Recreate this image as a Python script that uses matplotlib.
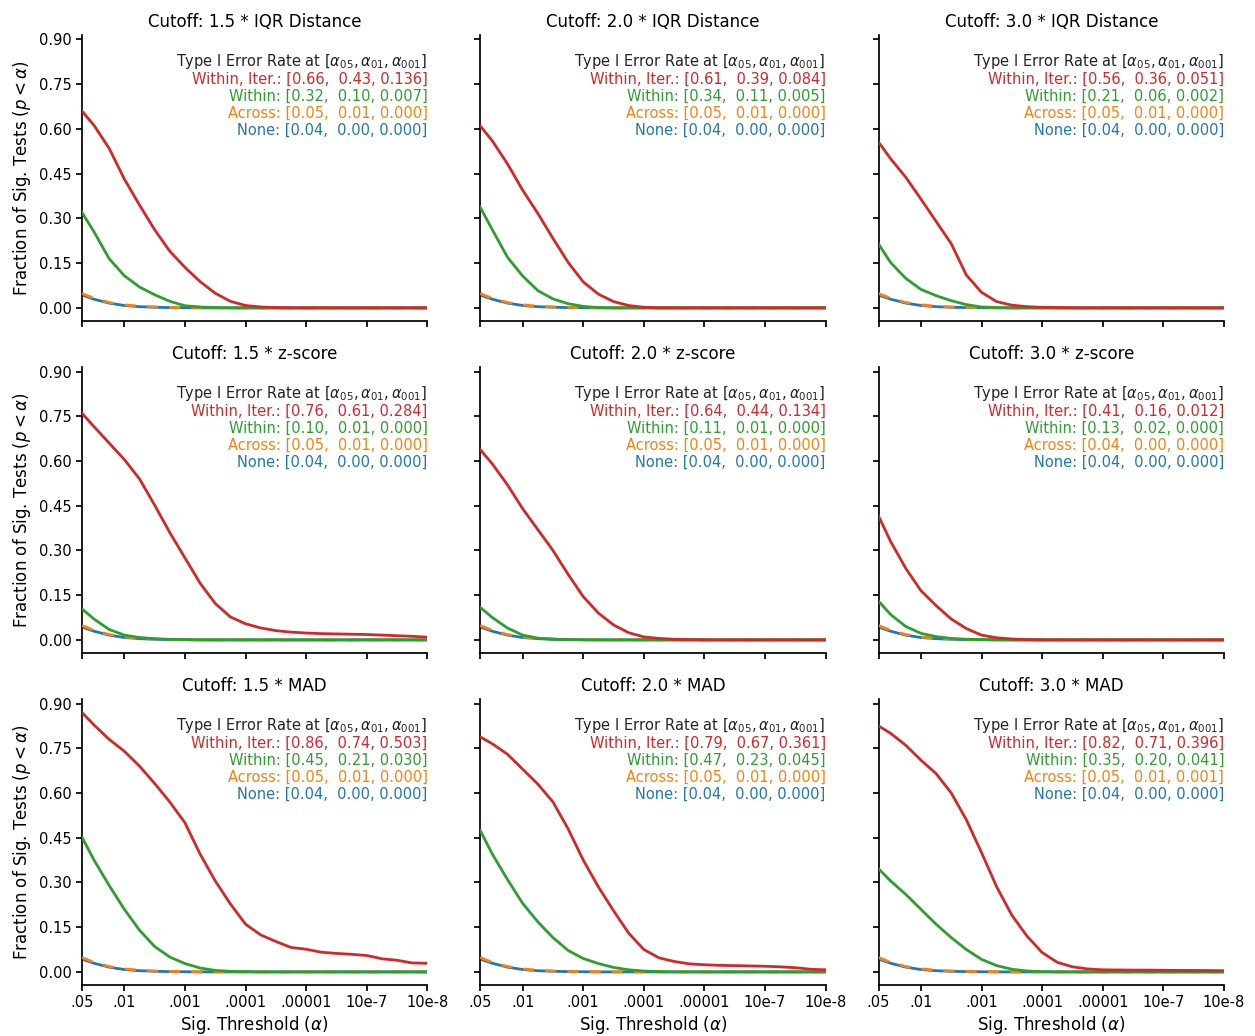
import matplotlib
matplotlib.use("Agg")
import matplotlib.pyplot as plt
from matplotlib.ticker import NullLocator

# ---------------- data ----------------
ALPHA = [0.05, 0.0316, 0.0178, 0.01, 0.00562, 0.00316, 0.00178, 0.001,
         5.62e-4, 3.16e-4, 1.78e-4, 1e-4, 5.62e-5, 3.16e-5, 1.78e-5, 1e-5,
         5.62e-6, 3.16e-6, 1.78e-6, 1e-6, 5.62e-7, 3.16e-7, 1.78e-7, 1e-7]

XTICKS = [0.05, 0.01, 0.001, 1e-4, 1e-5, 1e-6, 1e-7]
XTICKLABELS = [".05", ".01", ".001", ".0001", ".00001", "10e-7", "10e-8"]
YTICKS = [0.0, 0.15, 0.30, 0.45, 0.60, 0.75, 0.90]

TITLES = ["Cutoff: 1.5 * IQR Distance", "Cutoff: 2.0 * IQR Distance", "Cutoff: 3.0 * IQR Distance",
          "Cutoff: 1.5 * z-score", "Cutoff: 2.0 * z-score", "Cutoff: 3.0 * z-score",
          "Cutoff: 1.5 * MAD", "Cutoff: 2.0 * MAD", "Cutoff: 3.0 * MAD"]

SERIES_NAMES = ["Within, Iter.", "Within", "Across", "None"]

# shared null-like curves
NONE_Y = [0.043, 0.029, 0.016, 0.008, 0.004, 0.002, 0.001, 0.0005, 0, 0, 0, 0,
          0, 0, 0, 0, 0, 0, 0, 0, 0, 0, 0, 0]
ACROSS_Y = [0.048, 0.032, 0.018, 0.010, 0.0056, 0.0032, 0.0018, 0.001, 0.0006, 0.0003, 0.0002, 0.0001,
            0, 0, 0, 0, 0, 0, 0, 0, 0, 0, 0, 0]

# Within, Iter. curves
ITER_IQR15 = [0.66, 0.612, 0.535, 0.432, 0.345, 0.262, 0.19, 0.136, 0.088, 0.049, 0.022, 0.008,
              0.003, 0.001, 0, 0, 0, 0, 0, 0, 0, 0, 0, 0]
ITER_IQR20 = [0.61, 0.56, 0.483, 0.395, 0.317, 0.233, 0.153, 0.087, 0.046, 0.021, 0.008, 0.002,
              0, 0, 0, 0, 0, 0, 0, 0, 0, 0, 0, 0]
ITER_IQR30 = [0.556, 0.50, 0.438, 0.365, 0.29, 0.215, 0.11, 0.052, 0.021, 0.009, 0.004, 0.002,
              0.001, 0, 0, 0, 0, 0, 0, 0, 0, 0, 0, 0]
ITER_Z15 = [0.76, 0.715, 0.66, 0.605, 0.54, 0.452, 0.36, 0.275, 0.19, 0.122, 0.077, 0.054,
            0.04, 0.031, 0.026, 0.023, 0.021, 0.020, 0.019, 0.018, 0.016, 0.014, 0.012, 0.009]
ITER_Z20 = [0.638, 0.59, 0.52, 0.44, 0.37, 0.30, 0.22, 0.145, 0.09, 0.05, 0.024, 0.01,
            0.005, 0.002, 0.001, 0, 0, 0, 0, 0, 0, 0, 0, 0]
ITER_Z30 = [0.415, 0.33, 0.24, 0.165, 0.115, 0.07, 0.038, 0.016, 0.007, 0.003, 0.001, 0,
            0, 0, 0, 0, 0, 0, 0, 0, 0, 0, 0, 0]
ITER_MAD15 = [0.87, 0.828, 0.78, 0.74, 0.69, 0.632, 0.57, 0.50, 0.395, 0.305, 0.228, 0.16,
              0.124, 0.102, 0.082, 0.076, 0.066, 0.062, 0.059, 0.055, 0.044, 0.039, 0.030, 0.029]
ITER_MAD20 = [0.788, 0.765, 0.73, 0.68, 0.63, 0.57, 0.48, 0.375, 0.285, 0.205, 0.13, 0.075,
              0.047, 0.035, 0.027, 0.024, 0.022, 0.021, 0.020, 0.019, 0.017, 0.014, 0.009, 0.007]
ITER_MAD30 = [0.825, 0.80, 0.76, 0.71, 0.665, 0.60, 0.51, 0.40, 0.285, 0.19, 0.12, 0.065,
              0.032, 0.017, 0.010, 0.007, 0.0065, 0.006, 0.006, 0.0055, 0.005, 0.005, 0.0045, 0.004]

# Within curves
WITHIN_IQR15 = [0.32, 0.255, 0.165, 0.108, 0.07, 0.044, 0.022, 0.007, 0.003, 0.001, 0, 0,
                0, 0, 0, 0, 0, 0, 0, 0, 0, 0, 0, 0]
WITHIN_IQR20 = [0.337, 0.262, 0.17, 0.107, 0.058, 0.03, 0.014, 0.005, 0.001, 0, 0, 0,
                0, 0, 0, 0, 0, 0, 0, 0, 0, 0, 0, 0]
WITHIN_IQR30 = [0.214, 0.152, 0.099, 0.062, 0.041, 0.024, 0.011, 0.003, 0.001, 0, 0, 0,
                0, 0, 0, 0, 0, 0, 0, 0, 0, 0, 0, 0]
WITHIN_Z15 = [0.104, 0.07, 0.035, 0.016, 0.008, 0.004, 0.002, 0.001, 0, 0, 0, 0,
              0, 0, 0, 0, 0, 0, 0, 0, 0, 0, 0, 0]
WITHIN_Z20 = [0.109, 0.075, 0.04, 0.016, 0.006, 0.002, 0.001, 0, 0, 0, 0, 0,
              0, 0, 0, 0, 0, 0, 0, 0, 0, 0, 0, 0]
WITHIN_Z30 = [0.13, 0.085, 0.045, 0.022, 0.011, 0.005, 0.002, 0.001, 0, 0, 0, 0,
              0, 0, 0, 0, 0, 0, 0, 0, 0, 0, 0, 0]
WITHIN_MAD15 = [0.452, 0.375, 0.29, 0.21, 0.14, 0.085, 0.05, 0.028, 0.013, 0.005, 0.002, 0.001,
                0, 0, 0, 0, 0, 0, 0, 0, 0, 0, 0, 0]
WITHIN_MAD20 = [0.474, 0.395, 0.31, 0.23, 0.168, 0.115, 0.072, 0.045, 0.028, 0.015, 0.007, 0.003,
                0.001, 0, 0, 0, 0, 0, 0, 0, 0, 0, 0, 0]
WITHIN_MAD30 = [0.346, 0.305, 0.26, 0.21, 0.16, 0.115, 0.075, 0.042, 0.021, 0.009, 0.003, 0.001,
                0, 0, 0, 0, 0, 0, 0, 0, 0, 0, 0, 0]

ITER = [ITER_IQR15, ITER_IQR20, ITER_IQR30, ITER_Z15, ITER_Z20, ITER_Z30,
        ITER_MAD15, ITER_MAD20, ITER_MAD30]
WITHIN = [WITHIN_IQR15, WITHIN_IQR20, WITHIN_IQR30, WITHIN_Z15, WITHIN_Z20, WITHIN_Z30,
          WITHIN_MAD15, WITHIN_MAD20, WITHIN_MAD30]

# annotated rates [alpha05, alpha01, alpha001] per panel, rows: Within Iter., Within, Across, None
RATES_IQR15 = [[0.66, 0.43, 0.136], [0.32, 0.10, 0.007], [0.05, 0.01, 0.000], [0.04, 0.00, 0.000]]
RATES_IQR20 = [[0.61, 0.39, 0.084], [0.34, 0.11, 0.005], [0.05, 0.01, 0.000], [0.04, 0.00, 0.000]]
RATES_IQR30 = [[0.56, 0.36, 0.051], [0.21, 0.06, 0.002], [0.05, 0.01, 0.000], [0.04, 0.00, 0.000]]
RATES_Z15 = [[0.76, 0.61, 0.284], [0.10, 0.01, 0.000], [0.05, 0.01, 0.000], [0.04, 0.00, 0.000]]
RATES_Z20 = [[0.64, 0.44, 0.134], [0.11, 0.01, 0.000], [0.05, 0.01, 0.000], [0.04, 0.00, 0.000]]
RATES_Z30 = [[0.41, 0.16, 0.012], [0.13, 0.02, 0.000], [0.04, 0.00, 0.000], [0.04, 0.00, 0.000]]
RATES_MAD15 = [[0.86, 0.74, 0.503], [0.45, 0.21, 0.030], [0.05, 0.01, 0.000], [0.04, 0.00, 0.000]]
RATES_MAD20 = [[0.79, 0.67, 0.361], [0.47, 0.23, 0.045], [0.05, 0.01, 0.000], [0.04, 0.00, 0.000]]
RATES_MAD30 = [[0.82, 0.71, 0.396], [0.35, 0.20, 0.041], [0.05, 0.01, 0.001], [0.04, 0.00, 0.000]]
RATES = [RATES_IQR15, RATES_IQR20, RATES_IQR30, RATES_Z15, RATES_Z20, RATES_Z30,
         RATES_MAD15, RATES_MAD20, RATES_MAD30]

# ---------------- style ----------------
RED, GREEN, ORANGE, BLUE = "#d62728", "#2ca02c", "#ff7f0e", "#1f77b4"
COLORS = [RED, GREEN, ORANGE, BLUE]

plt.rcParams["font.family"] = ["DejaVu Sans"]
plt.rcParams["axes.linewidth"] = 1.25
plt.rcParams["xtick.major.width"] = 1.25
plt.rcParams["ytick.major.width"] = 1.25
plt.rcParams["xtick.major.size"] = 4.3
plt.rcParams["ytick.major.size"] = 4.3
plt.rcParams["xtick.major.pad"] = 3.0
plt.rcParams["ytick.major.pad"] = 3.0
plt.rcParams["xtick.labelsize"] = 10.5
plt.rcParams["ytick.labelsize"] = 10.5

fig, axes = plt.subplots(3, 3, figsize=(12.55, 10.36), dpi=100)
fig.subplots_adjust(left=0.0653, right=0.9753, top=0.9662, bottom=0.0492,
                    wspace=0.153, hspace=0.161)

for i, ax in enumerate(axes.flat):
    r, c = divmod(i, 3)
    lw = 2.0
    ax.plot(ALPHA, NONE_Y, color=BLUE, lw=lw, zorder=2)
    ax.plot(ALPHA, ACROSS_Y, color=ORANGE, lw=lw, dashes=(4, 4), zorder=3)
    ax.plot(ALPHA, WITHIN[i], color=GREEN, lw=lw, zorder=4)
    ax.plot(ALPHA, ITER[i], color=RED, lw=lw, zorder=5)

    ax.set_xscale("log")
    ax.set_xlim(0.05, 1e-7)
    ax.set_ylim(-0.044, 0.915)
    ax.set_xticks(XTICKS)
    ax.xaxis.set_minor_locator(NullLocator())
    ax.set_yticks(YTICKS)
    if r == 2:
        ax.set_xticklabels(XTICKLABELS)
        ax.set_xlabel(r"Sig. Threshold ($\alpha$)", fontsize=12, labelpad=3)
    else:
        ax.set_xticklabels([])
    if c == 0:
        ax.set_yticklabels(["%.2f" % v for v in YTICKS])
        ax.set_ylabel(r"Fraction of Sig. Tests ($p < \alpha$)", fontsize=12)
    else:
        ax.set_yticklabels([])
    ax.spines["top"].set_visible(False)
    ax.spines["right"].set_visible(False)
    ax.set_title(TITLES[i], fontsize=12, pad=6)

    y0 = 0.906
    dy = 0.0594
    ax.text(1.0, y0, r"Type I Error Rate at [$\alpha_{05}, \alpha_{01}, \alpha_{001}$]",
            transform=ax.transAxes, ha="right", va="center", fontsize=10.5, color="#222222")
    for k in range(4):
        v = RATES[i][k]
        s = "%s: [%.2f,  %.2f, %.3f]" % (SERIES_NAMES[k], v[0], v[1], v[2])
        ax.text(1.0, y0 - dy * (k + 1), s, transform=ax.transAxes, ha="right",
                va="center", fontsize=10.5, color=COLORS[k])

fig.savefig("out.png", dpi=100)
